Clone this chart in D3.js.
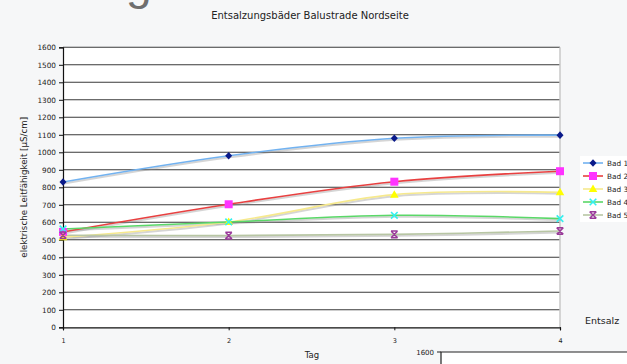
<!DOCTYPE html>
<html>
<head>
<meta charset="utf-8">
<script src="https://cdn.jsdelivr.net/npm/d3@7"></script>
<style>
  html, body { margin: 0; padding: 0; background: #f6f7f8; }
  svg { display: block; }
  text { font-family: "DejaVu Sans", Verdana, sans-serif; fill: #222; }
</style>
</head>
<body>
<svg id="chart" width="627" height="364"></svg>
<script>
// Measurement days and conductivity per bath (µS/cm)
const days = [1, 2, 3, 4];
const seriesNames = ["Bad 1", "Bad 2", "Bad 3", "Bad 4", "Bad 5"];
const bad1 = [830, 980, 1080, 1098];
const bad2 = [545, 703, 832, 892];
const bad3 = [515, 602, 758, 772];
const bad4 = [562, 602, 640, 621];
const bad5 = [526, 524, 531, 550];
const yTicks = [0, 100, 200, 300, 400, 500, 600, 700, 800, 900, 1000, 1100, 1200, 1300, 1400, 1500, 1600];

const seriesValues = [bad1, bad2, bad3, bad4, bad5];
const lineColors = ["#72b2f0", "#e84040", "#f6e98e", "#5ad868", "#b8c6a4"];
const markerColors = ["#0a1a8a", "#ff33ff", "#ffff00", "#33f0f0", "#9a3a9a"];
const markerTypes = ["diamond", "square", "triangle", "cross", "star"];

const svg = d3.select("#chart");
const plotLeft = 63, plotRight = 560, plotTop = 47.3, plotBottom = 327.3;

const x = d3.scaleLinear().domain([1, 4]).range([plotLeft, plotRight]);
const y = d3.scaleLinear().domain([0, 1600]).range([plotBottom, plotTop]);

// large heading glyph partly above the view
svg.append("text").attr("x", 126).attr("y", -1)
  .style("font-family", "Liberation Sans, Arial, sans-serif")
  .style("font-size", "46px").style("fill", "#6e6e6e").text("g");

// title
svg.append("text").attr("x", 310).attr("y", 19).attr("text-anchor", "middle")
  .style("font-size", "10px").text("Entsalzungsbäder Balustrade Nordseite");

// plot area
svg.append("rect").attr("x", plotLeft).attr("y", plotTop)
  .attr("width", plotRight - plotLeft).attr("height", plotBottom - plotTop).attr("fill", "#ffffff");

// horizontal gridlines
svg.append("g").selectAll("line").data(yTicks.filter(d => d > 0)).join("line")
  .attr("x1", plotLeft).attr("x2", plotRight)
  .attr("y1", d => y(d)).attr("y2", d => y(d))
  .attr("stroke", "#3a3a3a").attr("stroke-width", 1.1);

// right border of plot area
svg.append("line").attr("x1", plotRight).attr("x2", plotRight).attr("y1", plotTop).attr("y2", plotBottom)
  .attr("stroke", "#c8c8c8").attr("stroke-width", 1.5);

// y axis
const yAxis = svg.append("g").attr("transform", `translate(${plotLeft},0)`)
  .call(d3.axisLeft(y).tickValues(yTicks).tickSize(4).tickPadding(3).tickFormat(d3.format("d")));
yAxis.select(".domain").attr("stroke", "#111").attr("stroke-width", 1.2);
yAxis.selectAll(".tick line").attr("stroke", "#111");
yAxis.selectAll(".tick text").style("font-size", "7.3px").style("fill", "#222")
  .style("font-family", "DejaVu Sans, sans-serif");

// x axis
const xAxis = svg.append("g").attr("transform", `translate(0,${plotBottom})`)
  .call(d3.axisBottom(x).tickValues(days).tickSize(3).tickPadding(8).tickFormat(d3.format("d")));
xAxis.select(".domain").attr("stroke", "#111").attr("stroke-width", 1.2);
xAxis.selectAll(".tick line").attr("stroke", "#111");
xAxis.selectAll(".tick text").style("font-size", "6.5px").style("fill", "#222")
  .style("font-family", "DejaVu Sans, sans-serif");

// axis titles
svg.append("text").attr("x", 312).attr("y", 358).attr("text-anchor", "middle")
  .style("font-size", "8.5px").text("Tag");
svg.append("text").attr("transform", `translate(27,${(plotTop + plotBottom) / 2}) rotate(-90)`)
  .attr("text-anchor", "middle").style("font-size", "8.7px")
  .text("elektrische Leitfähigkeit [µS/cm]");

// smoothed series lines with soft shadow
const line = d3.line().x((d, i) => x(days[i])).y(d => y(d)).curve(d3.curveCatmullRom.alpha(0));
const lines = svg.append("g");
seriesValues.forEach((vals, k) => {
  lines.append("path").attr("d", line(vals)).attr("fill", "none")
    .attr("stroke", "#888").attr("stroke-opacity", 0.35).attr("stroke-width", 2)
    .attr("transform", "translate(0.8,1.5)");
});
seriesValues.forEach((vals, k) => {
  lines.append("path").attr("d", line(vals)).attr("fill", "none")
    .attr("stroke", lineColors[k]).attr("stroke-width", 1.6);
});

function drawMarker(g, type, cx, cy, color) {
  if (type === "diamond") {
    g.append("path").attr("d", `M${cx},${cy - 3.8}L${cx + 3.5},${cy}L${cx},${cy + 3.8}L${cx - 3.5},${cy}Z`).attr("fill", color);
  } else if (type === "square") {
    g.append("rect").attr("x", cx - 4).attr("y", cy - 4).attr("width", 8).attr("height", 8).attr("fill", color);
  } else if (type === "triangle") {
    g.append("path").attr("d", `M${cx},${cy - 4.5}L${cx + 4.3},${cy + 3}L${cx - 4.3},${cy + 3}Z`).attr("fill", color);
  } else if (type === "cross") {
    g.append("path").attr("d", `M${cx - 3.3},${cy - 3.3}L${cx + 3.3},${cy + 3.3}M${cx + 3.3},${cy - 3.3}L${cx - 3.3},${cy + 3.3}`)
      .attr("stroke", color).attr("stroke-width", 1.6);
  } else {
    g.append("path").attr("d", `M${cx - 3.3},${cy - 3.3}L${cx + 3.3},${cy + 3.3}M${cx + 3.3},${cy - 3.3}L${cx - 3.3},${cy + 3.3}M${cx - 3.3},${cy - 3.3}H${cx + 3.3}M${cx - 3.3},${cy + 3.3}H${cx + 3.3}`)
      .attr("stroke", color).attr("stroke-width", 1.5);
  }
}

// markers
const marks = svg.append("g");
seriesValues.forEach((vals, k) => {
  vals.forEach((v, i) => drawMarker(marks, markerTypes[k], x(days[i]), y(v), markerColors[k]));
});

// legend
const legend = svg.append("g");
legend.append("rect").attr("x", 580).attr("y", 156).attr("width", 60).attr("height", 66)
  .attr("fill", "#ffffff");
seriesNames.forEach((name, k) => {
  const ly = 163 + k * 13;
  legend.append("line").attr("x1", 583).attr("x2", 603).attr("y1", ly).attr("y2", ly)
    .attr("stroke", lineColors[k]).attr("stroke-width", 1.6);
  drawMarker(legend, markerTypes[k], 593, ly, markerColors[k]);
  legend.append("text").attr("x", 607).attr("y", ly + 2.5).style("font-size", "7.3px").text(name);
});

// neighbouring chart peeking in at the lower right
svg.append("text").attr("x", 585).attr("y", 324).style("font-size", "9.5px").text("Entsalz");
svg.append("rect").attr("x", 441).attr("y", 352).attr("width", 200).attr("height", 20).attr("fill", "#ffffff");
svg.append("path").attr("d", "M441,364V352H627").attr("fill", "none").attr("stroke", "#222").attr("stroke-width", 1.2);
svg.append("line").attr("x1", 437).attr("x2", 441).attr("y1", 352).attr("y2", 352).attr("stroke", "#222");
svg.append("text").attr("x", 434).attr("y", 354.5).attr("text-anchor", "end")
  .style("font-size", "7px").text("1600");
</script>
</body>
</html>
